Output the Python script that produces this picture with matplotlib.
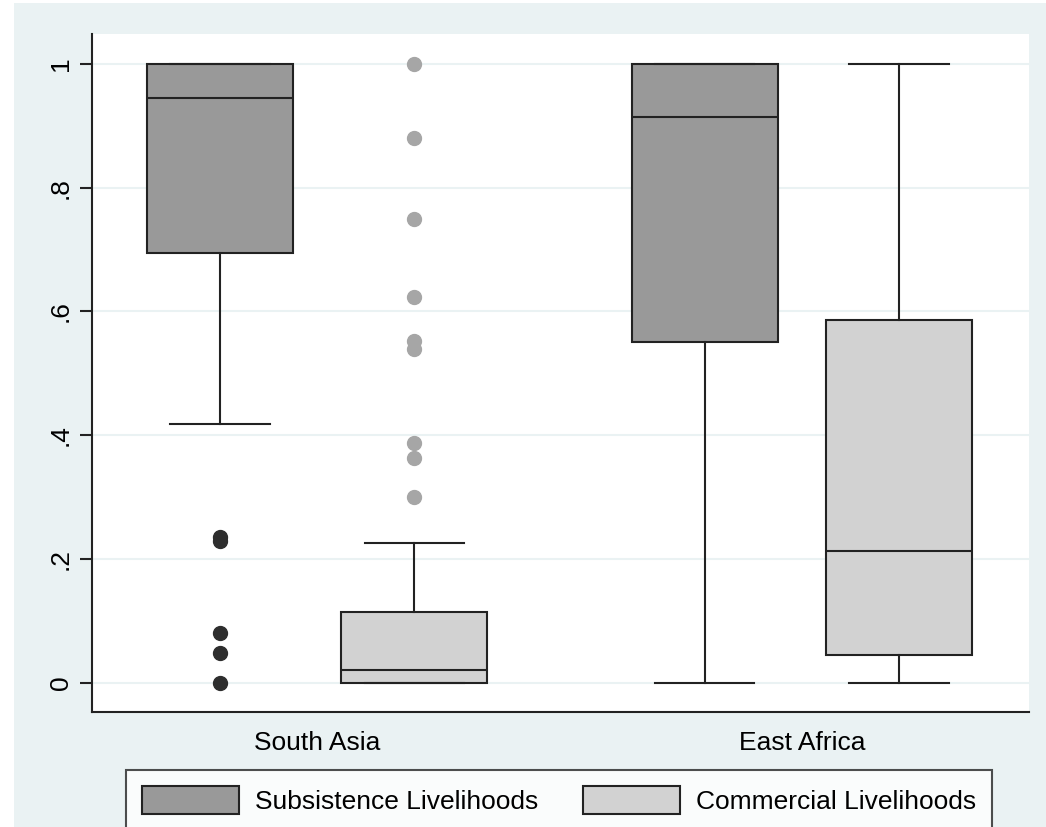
import matplotlib
matplotlib.use("Agg")
import matplotlib.pyplot as plt
from matplotlib.patches import Rectangle, Patch

plt.rcParams['font.family'] = ['Liberation Sans', 'DejaVu Sans']

groups = ["South Asia", "East Africa"]
series = ["Subsistence Livelihoods", "Commercial Livelihoods"]
fills = ["#999999", "#D2D2D2"]
flier_colors = ["#2E2E2E", "#A6A6A6"]

# box stats
sa_sub = dict(q1=0.695, med=0.945, q3=1.0, whislo=0.418, whishi=1.0,
              fliers=[0.235, 0.23, 0.081, 0.048, 0.0])
sa_com = dict(q1=0.0, med=0.021, q3=0.115, whislo=0.0, whishi=0.226,
              fliers=[1.0, 0.88, 0.75, 0.623, 0.553, 0.54, 0.387, 0.363, 0.30])
ea_sub = dict(q1=0.551, med=0.914, q3=1.0, whislo=0.0, whishi=1.0, fliers=[])
ea_com = dict(q1=0.045, med=0.213, q3=0.586, whislo=0.0, whishi=1.0, fliers=[])

positions = [1.0, 2.33, 4.32, 5.65]
yticks = [0, 0.2, 0.4, 0.6, 0.8, 1.0]
ytick_labels = ["0", ".2", ".4", ".6", ".8", "1"]

dark = "#222222"

fig = plt.figure(figsize=(10.46, 8.27), dpi=100)
fig.patch.set_facecolor("white")
fig.patches.append(Rectangle((14 / 1046, 0), 1, 1 - 3 / 827, transform=fig.transFigure,
                             facecolor="#EAF2F3", edgecolor="none", zorder=-10))

ax = fig.add_axes([0.088, 0.139, 0.8958, 0.8198])
ax.set_facecolor("white")

stats = [sa_sub, sa_com, ea_sub, ea_com]
for i, (st, pos) in enumerate(zip(stats, positions)):
    k = i % 2
    ax.bxp([st], positions=[pos], widths=1.0, capwidths=0.68, patch_artist=True,
           manage_ticks=False,
           boxprops=dict(facecolor=fills[k], edgecolor=dark, linewidth=1.5),
           medianprops=dict(color=dark, linewidth=1.5),
           whiskerprops=dict(color=dark, linewidth=1.5),
           capprops=dict(color=dark, linewidth=1.5),
           flierprops=dict(marker="o", markersize=10, markerfacecolor=flier_colors[k],
                           markeredgecolor=flier_colors[k]),
           zorder=3)

ax.set_xlim(0.123, 6.541)
ax.set_ylim(-0.047, 1.048)

ax.set_yticks(yticks)
ax.set_yticklabels(ytick_labels, rotation=90, va="center", fontsize=19)
ax.tick_params(axis="y", length=9, width=1.5, color=dark, pad=5)
ax.yaxis.grid(True, color="#EAF2F3", linewidth=1.5, zorder=0)
ax.set_axisbelow(True)

ax.set_xticks([(positions[0] + positions[1]) / 2, (positions[2] + positions[3]) / 2])
ax.set_xticklabels(groups, fontsize=19)
ax.tick_params(axis="x", length=0, pad=14)

for side in ["top", "right"]:
    ax.spines[side].set_visible(False)
for side in ["left", "bottom"]:
    ax.spines[side].set_color(dark)
    ax.spines[side].set_linewidth(1.5)

handles = [Patch(facecolor=fills[k], edgecolor=dark, linewidth=1.5, label=series[k]) for k in range(2)]
leg = fig.legend(handles=handles, loc="upper left", ncol=2, mode="expand",
                 bbox_to_anchor=(126 / 1046, 1 - 770 / 827, 866 / 1046, 0.0),
                 bbox_transform=fig.transFigure, fontsize=19, frameon=True, fancybox=False,
                 handlelength=3.7, handleheight=1.25, handletextpad=0.6,
                 borderpad=0.6, borderaxespad=0)
leg.get_frame().set_edgecolor(dark)
leg.get_frame().set_linewidth(1.5)

fig.savefig("out.png", dpi=100)
